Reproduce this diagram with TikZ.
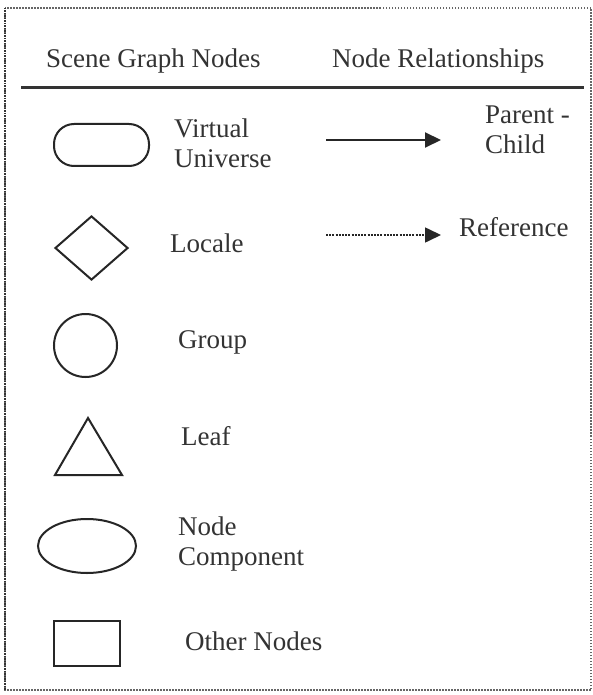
\documentclass[tikz,border=0pt]{standalone}
\usepackage{fontspec}
\setmainfont{Liberation Serif}
\usetikzlibrary{shapes.geometric,arrows.meta}
\begin{document}
\begin{tikzpicture}[x=1pt,y=-1pt,
  shp/.style={draw=black!85, line width=2pt, inner sep=0pt},
  lbl/.style={font=\fontsize{27}{30}\selectfont, text=black!80, inner sep=0pt, align=left},
  rel/.style={line width=2pt, draw=black!85, -{Triangle[length=16pt,width=15pt]}}
]
\useasboundingbox (0,0) rectangle (593,695);
\fill[white] (0,0) rectangle (593,695);
% frame
\draw[black!60, line width=1.2pt, dash pattern=on 1.5pt off 1.5pt] (5,8) rectangle (591,690);
\draw[black!80, line width=1.6pt, dash pattern=on 1.5pt off 1pt] (5,8) -- (5,690);
% header
\node[lbl, anchor=west] (h1) at (46,61) {Scene Graph Nodes};
\node[lbl, anchor=west] (h2) at (332,61) {Node Relationships};
\coordinate (r1) at (21,88);
\coordinate (r2) at (584,88);
\draw[black!80, line width=3pt] (r1) -- (r2);
% shapes
\node[shp, rectangle, rounded corners=20pt, minimum width=95pt, minimum height=42pt] (vu) at (101.5,145) {};
\node[shp, diamond, minimum width=73pt, minimum height=64pt] (lo) at (91.5,248) {};
\node[shp, circle, minimum size=63pt] (gr) at (85.5,345.5) {};
\coordinate (t1) at (88,418);
\coordinate (t2) at (122,475);
\coordinate (t3) at (55,475);
\draw[draw=black!85, line width=2pt, line join=miter] (t1) -- (t2) -- (t3) -- cycle;
\node[shp, ellipse, minimum width=98pt, minimum height=54pt] (nc) at (87,546) {};
\node[shp, rectangle, minimum width=66pt, minimum height=45pt] (on) at (87,643.5) {};
% labels
\node[lbl, anchor=west] (vuL) at (174,143) {Virtual\\Universe};
\node[lbl, anchor=west] (loL) at (170,243) {Locale};
\node[lbl, anchor=west] (grL) at (178,342) {Group};
\node[lbl, anchor=west] (lfL) at (181,436) {Leaf};
\node[lbl, anchor=west] (ncL) at (178,544) {Node\\Component};
\node[lbl, anchor=west] (onL) at (185,641) {Other Nodes};
% relationships
\coordinate (p1) at (326,140);
\coordinate (p2) at (441,140);
\draw[rel] (p1) -- (p2);
\node[lbl, anchor=west] (pcL) at (485,130) {Parent -\\Child};
\coordinate (q1) at (326,235);
\coordinate (q2) at (441,235);
\draw[rel, line width=1.6pt, dash pattern=on 2pt off 1.2pt] (q1) -- (q2);
\node[lbl, anchor=west] (rfL) at (459,227) {Reference};
\end{tikzpicture}
\end{document}
